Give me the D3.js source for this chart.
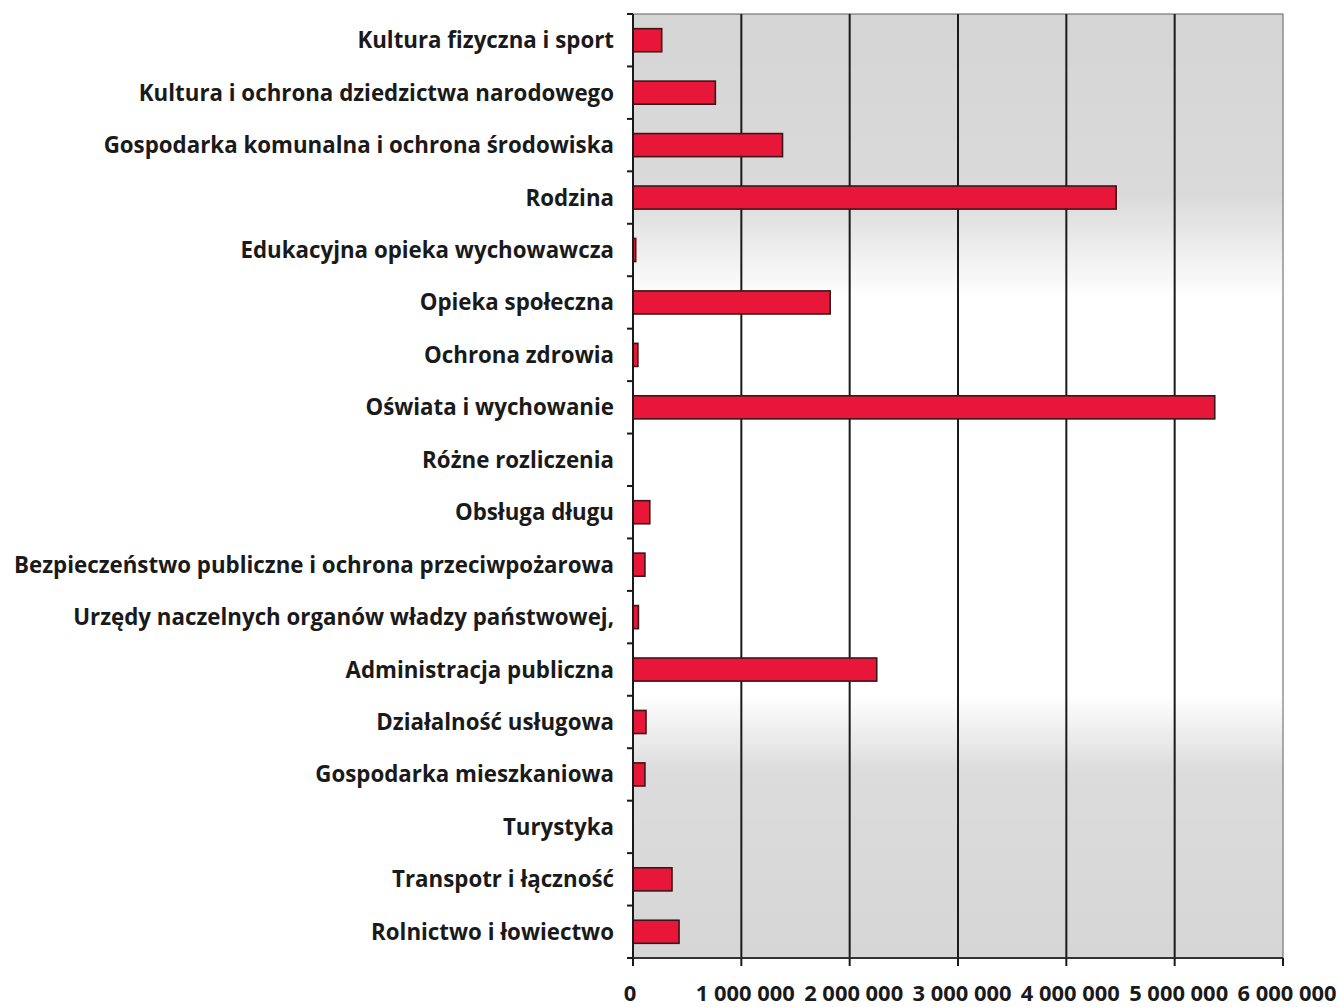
<!DOCTYPE html>
<html>
<head>
<meta charset="utf-8">
<script src="https://cdn.jsdelivr.net/npm/d3@7"></script>
<style>
  body { margin: 0; background: #fff; }
  svg { display: block; }
  text { font-family: "Open Sans", Lato, sans-serif; font-weight: bold; fill: #1a1a1a; }
</style>
</head>
<body>
<svg class="chart" width="1338" height="1007"></svg>
<script>
// categories top to bottom, values in PLN
var categories = [
  "Kultura fizyczna i sport",
  "Kultura i ochrona dziedzictwa narodowego",
  "Gospodarka komunalna i ochrona środowiska",
  "Rodzina",
  "Edukacyjna opieka wychowawcza",
  "Opieka społeczna",
  "Ochrona zdrowia",
  "Oświata i wychowanie",
  "Różne rozliczenia",
  "Obsługa długu",
  "Bezpieczeństwo publiczne i ochrona przeciwpożarowa",
  "Urzędy naczelnych organów władzy państwowej,",
  "Administracja publiczna",
  "Działalność usługowa",
  "Gospodarka mieszkaniowa",
  "Turystyka",
  "Transpotr i łączność",
  "Rolnictwo i łowiectwo"
];
var values = [265000, 760000, 1380000, 4460000, 25000, 1820000, 45000, 5370000, 0,
              155000, 110000, 50000, 2250000, 120000, 110000, 0, 360000, 425000];
var tickValues = [0, 1000000, 2000000, 3000000, 4000000, 5000000, 6000000];
var tickLabels = ["0", "1 000 000", "2 000 000", "3 000 000", "4 000 000", "5 000 000", "6 000 000"];

var svg = d3.select("svg.chart"),
margin = {top: 14, right: 55, bottom: 49, left: 633};
var width = +svg.attr("width") - margin.left - margin.right,
height = +svg.attr("height") - margin.top - margin.bottom;
var g = svg.append("g").attr("transform", "translate(" + margin.left + "," + margin.top + ")");

var x = d3.scaleLinear().domain([0, 6000000]).range([0, width]);
var y = d3.scaleBand().domain(categories).range([0, height]).paddingInner(0.56).paddingOuter(0.28);

// background: gray at top and bottom, white in the middle (white part left unpainted)
var bgColor = d3.scaleLinear()
  .domain([0, 0.19, 0.30, 0.72, 0.80, 1])
  .range(["#d5d5d5", "#dadada", "#ffffff", "#ffffff", "#dcdcdc", "#d6d6d6"]);
var stripH = 2;
var strips = d3.range(0, height, stripH).filter(function(d) {
  var t = d / height; return t < 0.30 || t > 0.72;
});
g.selectAll(".bg").data(strips).enter().append("rect")
  .attr("class", "bg")
  .attr("x", 0).attr("y", function(d) { return d; })
  .attr("width", width).attr("height", stripH + 0.5)
  .attr("fill", function(d) { return bgColor(d / height); });

g.append("rect").attr("width", width).attr("height", height)
  .attr("fill", "none").attr("stroke", "#777").attr("stroke-width", 1.2);

// vertical gridlines
g.selectAll(".grid").data(tickValues.slice(1, -1)).enter().append("line")
  .attr("class", "grid")
  .attr("x1", function(d) { return x(d); }).attr("x2", function(d) { return x(d); })
  .attr("y1", 0).attr("y2", height)
  .attr("stroke", "#1a1a1a").attr("stroke-width", 2);

// bars
g.selectAll(".bar").data(values).enter().append("rect")
  .attr("class", "bar")
  .attr("x", 0)
  .attr("y", function(d, i) { return y(categories[i]); })
  .attr("width", function(d) { return x(d); })
  .attr("height", y.bandwidth())
  .attr("fill", function(d) { return d > 0 ? "#e8173a" : "none"; })
  .attr("stroke", function(d) { return d > 0 ? "#3b1616" : "none"; })
  .attr("stroke-width", 1.6);

// y axis
var step = height / categories.length;
g.append("line").attr("x1", 0).attr("x2", 0).attr("y1", 0).attr("y2", height + 8)
  .attr("stroke", "#1a1a1a").attr("stroke-width", 2);
g.selectAll(".ytick").data(d3.range(categories.length + 1)).enter().append("line")
  .attr("class", "ytick")
  .attr("x1", -6).attr("x2", 0)
  .attr("y1", function(d) { return d * step; }).attr("y2", function(d) { return d * step; })
  .attr("stroke", "#1a1a1a").attr("stroke-width", 2);
g.selectAll(".ylab").data(categories).enter().append("text")
  .attr("class", "ylab")
  .attr("x", -19)
  .attr("y", function(d) { return y(d) + y.bandwidth() / 2; })
  .attr("dy", "0.36em")
  .attr("text-anchor", "end")
  .style("font-size", "22.3px")
  .text(function(d) { return d; });

// x axis
g.append("line").attr("x1", 0).attr("x2", width).attr("y1", height).attr("y2", height)
  .attr("stroke", "#333").attr("stroke-width", 2);
g.selectAll(".xtick").data(tickValues).enter().append("line")
  .attr("class", "xtick")
  .attr("x1", function(d) { return x(d); }).attr("x2", function(d) { return x(d); })
  .attr("y1", height).attr("y2", height + 8)
  .attr("stroke", "#1a1a1a").attr("stroke-width", 2);
g.selectAll(".xlab").data(tickValues).enter().append("text")
  .attr("class", "xlab")
  .attr("x", function(d) { return x(d) + (d === 0 ? -3 : 4); })
  .attr("y", height + 43)
  .attr("text-anchor", "middle")
  .attr("textLength", function(d) { return d === 0 ? null : 99; })
  .attr("lengthAdjust", "spacingAndGlyphs")
  .style("font-size", "22px")
  .text(function(d, i) { return tickLabels[i]; });
</script>
</body>
</html>
